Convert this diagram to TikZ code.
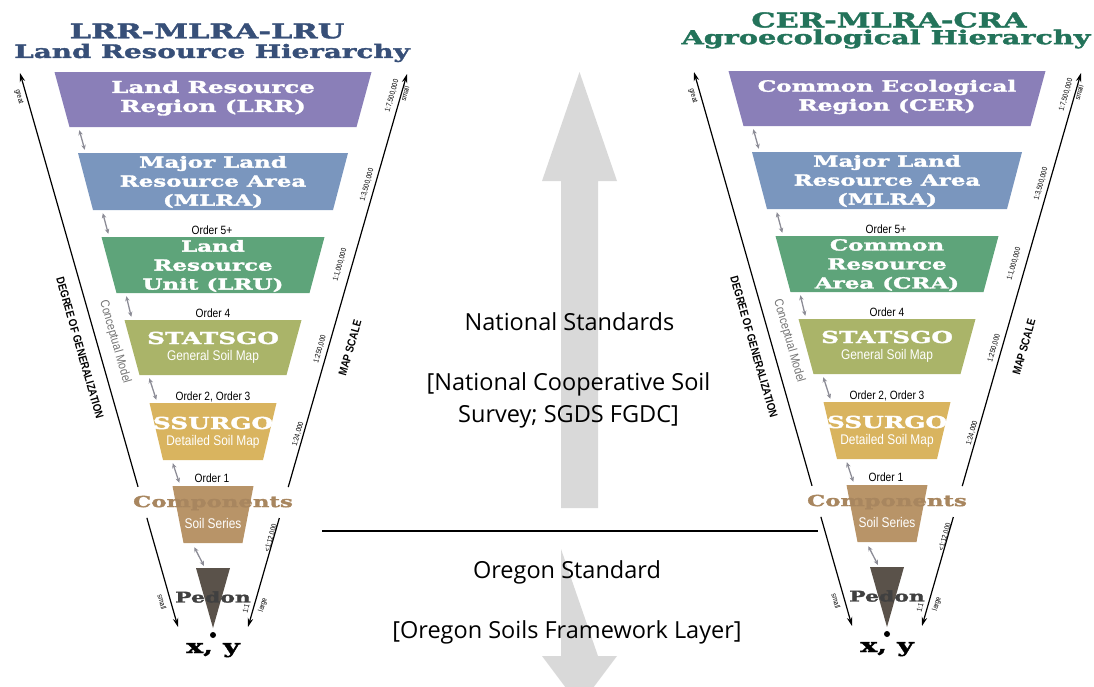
\documentclass[tikz,border=0pt]{standalone}
\usepackage{fontspec}
\usetikzlibrary{arrows.meta,calc}

\newfontfamily\slab{DejaVu Serif}[FakeStretch=1.5,FakeBold=2]
\newfontfamily\narrow{Liberation Sans}[FakeStretch=0.85]
\newfontfamily\opensans{Open Sans}

\definecolor{lrrcol}{HTML}{8A7FB8}
\definecolor{mlracol}{HTML}{7A96BE}
\definecolor{lrucol}{HTML}{5EA47A}
\definecolor{statcol}{HTML}{AAB469}
\definecolor{ssurcol}{HTML}{D9B45F}
\definecolor{compcol}{HTML}{B89468}
\definecolor{comptext}{HTML}{A8865F}
\definecolor{pedoncol}{HTML}{5A524A}
\definecolor{linkcol}{HTML}{8C8C96}
\definecolor{ltitle}{HTML}{374F78}
\definecolor{rtitle}{HTML}{23735A}
\definecolor{arrowgrey}{HTML}{D9D9D9}

\begin{document}
\begin{tikzpicture}[x=1pt,y=-1pt,
	trap/.style n args={4}{rectangle,inner sep=0pt,minimum width=#1,minimum height=#2,
		path picture={\fill[#4] (path picture bounding box.north west) -- (path picture bounding box.north east)
			-- ([xshift=-#3]path picture bounding box.south east) -- ([xshift=#3]path picture bounding box.south west) -- cycle;}},
	lrrbox/.style={trap={317pt}{55pt}{15pt}{lrrcol}},
	mlrabox/.style={trap={270pt}{57pt}{15pt}{mlracol}},
	lrubox/.style={trap={223pt}{56pt}{15pt}{lrucol}},
	statbox/.style={trap={177pt}{55pt}{15pt}{statcol}},
	ssurbox/.style={trap={127pt}{57pt}{13.5pt}{ssurcol}},
	compbox/.style={trap={81pt}{57pt}{11pt}{compcol}},
	titletxt/.style={font=\slab\bfseries\fontsize{20.3}{22}\selectfont,inner sep=0pt},
	boxtxt/.style={text=white,font=\slab\bfseries\fontsize{15.3}{19}\selectfont,align=center,inner sep=0pt},
	bigtxt/.style={text=white,font=\slab\bfseries\fontsize{16.5}{19}\selectfont,inner sep=0pt},
	subtxt/.style={text=white,font=\narrow\fontsize{14}{16}\selectfont,inner sep=0pt},
	ordertxt/.style={font=\narrow\fontsize{12}{14}\selectfont,inner sep=0pt},
	axislbl/.style={font=\narrow\bfseries\fontsize{11.5}{13}\selectfont,inner sep=0pt},
	conceptlbl/.style={text=black!55,font=\narrow\fontsize{12.5}{14}\selectfont,inner sep=0pt},
	scalelbl/.style={font=\narrow\fontsize{7.5}{8}\selectfont,inner sep=0pt},
	link/.style={{Stealth[length=5pt,width=4.5pt]}-{Stealth[length=5pt,width=4.5pt]},draw=linkcol,line width=1.3pt},
	scaleline/.style={line width=1.2pt,-{Stealth[length=9pt,width=5.5pt]}},
	centretxt/.style={font=\opensans\fontsize{23.5}{28}\selectfont,inner sep=0pt,anchor=base}]

	\useasboundingbox (0,0) rectangle (1094,686);
	\clip (0,0) rectangle (1094,686);

	% national / oregon arrows
	\fill[arrowgrey] (561,508) -- (561,181) -- (542,181) -- (579.5,72) -- (617,181) -- (598,181) -- (598,508) -- cycle;
	\fill[arrowgrey] (561,549) -- (561,656) -- (542,656) -- (579.5,706) -- (617,656) -- (598,656) -- cycle;
	\draw[line width=1.5pt] (322,531) -- (818,531);

	\node[centretxt] (n1) at (569.5,330) {National Standards};
	\node[centretxt] (n2) at (568.5,390) {[National Cooperative Soil};
	\node[centretxt] (n3) at (568.5,422) {Survey; SGDS FGDC]};
	\node[centretxt] (o1) at (567,578) {Oregon Standard};
	\node[centretxt] (o2) at (567,638) {[Oregon Soils Framework Layer]};

	% the two hierarchies
	\foreach \s/\dx/\dy/\tcol/\txa/\tya/\tyb/\tsz/\asz/\tla/\tlb/\ta/\tc in {
		L/0/0/ltitle/207/31/53/18.5/16.3/{LRR-MLRA-LRU}/{Land Resource Hierarchy}/{Land Resource\\Region (LRR)}/{Land\\Resource\\Unit (LRU)},
		R/674/-1/rtitle/215/21/40/19.1/15.5/{CER-MLRA-CRA}/{Agroecological Hierarchy}/{Common Ecological\\Region (CER)}/{Common\\Resource\\Area (CRA)}}
	{
	\begin{scope}[shift={(\dx,\dy)}]
		\node[titletxt,text=\tcol] (\s-t1) at (\txa,\tya) {\tla};
		\node[titletxt,text=\tcol,font=\slab\bfseries\fontsize{\tsz}{22}\selectfont] (\s-t2) at (212,\tyb) {\tlb};

		\node[lrrbox]	(\s1)	at (213,99.5)	{};
		\node[boxtxt,font=\slab\bfseries\fontsize{\asz}{19}\selectfont]	at (213,98)	{\ta};
		\node[mlrabox]	(\s2)	at (213,181.5)	{};
		\node[boxtxt]			at (213,182)	{Major Land\\Resource Area\\(MLRA)};
		\node[ordertxt]			at (212,230)	{Order 5+};
		\node[lrubox]	(\s3)	at (213,265)	{};
		\node[boxtxt]			at (213,266)	{\tc};
		\node[ordertxt]			at (213,313)	{Order 4};
		\node[statbox]	(\s4)	at (213,347.5)	{};
		\node[bigtxt]			at (213,338)	{STATSGO};
		\node[subtxt]			at (213,357)	{General Soil Map};
		\node[ordertxt]			at (213,397)	{Order 2, Order 3};
		\node[ssurbox]	(\s5)	at (213,431.5)	{};
		\node[bigtxt]			at (213,423)	{SSURGO};
		\node[subtxt]			at (213,442)	{Detailed Soil Map};
		\node[ordertxt]			at (212,478)	{Order 1};
		\node[compbox]	(\s6)	at (213,514.5)	{};
		\node[subtxt]			at (213,523)	{Soil Series};

		\fill[pedoncol] (196,568) -- (230,568) -- (213,628) -- cycle;
		\coordinate (\s7) at (204,566);
		\fill (213,635) circle (3);
		\node[font=\slab\bfseries\fontsize{19}{22}\selectfont,inner sep=0pt,anchor=base] (\s8) at (213,653) {x, y};

		\foreach \a/\b/\i in {1/2/25,2/3/25,3/4/25,4/5/25,5/6/23.5}
			\draw[link] ($(\s\a.south west)+(\i,3)$) -- ($(\s\b.north west)+(7,-3)$);
		\draw[link] ($(\s6.south west)+(22,4)$) -- (\s7);

		% degree of generalization / map scale
		\coordinate (\s-g1) at (20,73);
		\coordinate (\s-g2) at (178,627);
		\coordinate (\s-m1) at (407,74);
		\coordinate (\s-m2) at (248,627);
		\draw[scaleline] ($(\s-g1)!0.747!(\s-g2)$) -- (\s-g1);
		\draw[scaleline] ($(\s-g1)!0.803!(\s-g2)$) -- (\s-g2);
		\draw[scaleline] ($(\s-m1)!0.747!(\s-m2)$) -- (\s-m1);
		\draw[scaleline] ($(\s-m1)!0.803!(\s-m2)$) -- (\s-m2);

		\node[text=comptext,font=\slab\bfseries\fontsize{15.2}{18}\selectfont,inner sep=0pt] at (213,503) {Components};
		\node[text=black!75,font=\slab\bfseries\fontsize{14.6}{18}\selectfont,inner sep=0pt] at (213,597) {Pedon};

		\node[axislbl,rotate=-74]		at (80,348)		{DEGREE OF GENERALIZATION};
		\node[conceptlbl,rotate=-74]	at (115,342)	{Conceptual Model};
		\node[axislbl,rotate=74]		at (350,348)	{MAP SCALE};
		\node[scalelbl,rotate=-74]		at (19,97)		{great};
		\node[scalelbl,rotate=-74]		at (162,602)	{small};
		\node[scalelbl,rotate=74]		at (392,96)		{1:7,500,000};
		\node[scalelbl,rotate=74]		at (405,94)		{small};
		\node[scalelbl,rotate=74]		at (367,185)	{1:3,500,000};
		\node[scalelbl,rotate=74]		at (340,265)	{1:1,000,000};
		\node[scalelbl,rotate=74]		at (320,349)	{1:250,000};
		\node[scalelbl,rotate=74]		at (298,434)	{1:24,000};
		\node[scalelbl,rotate=74]		at (271,538)	{<1:12,000};
		\node[scalelbl,rotate=74]		at (246,609)	{1:1};
		\node[scalelbl,rotate=74]		at (263,605)	{large};
	\end{scope}
	}
\end{tikzpicture}
\end{document}
